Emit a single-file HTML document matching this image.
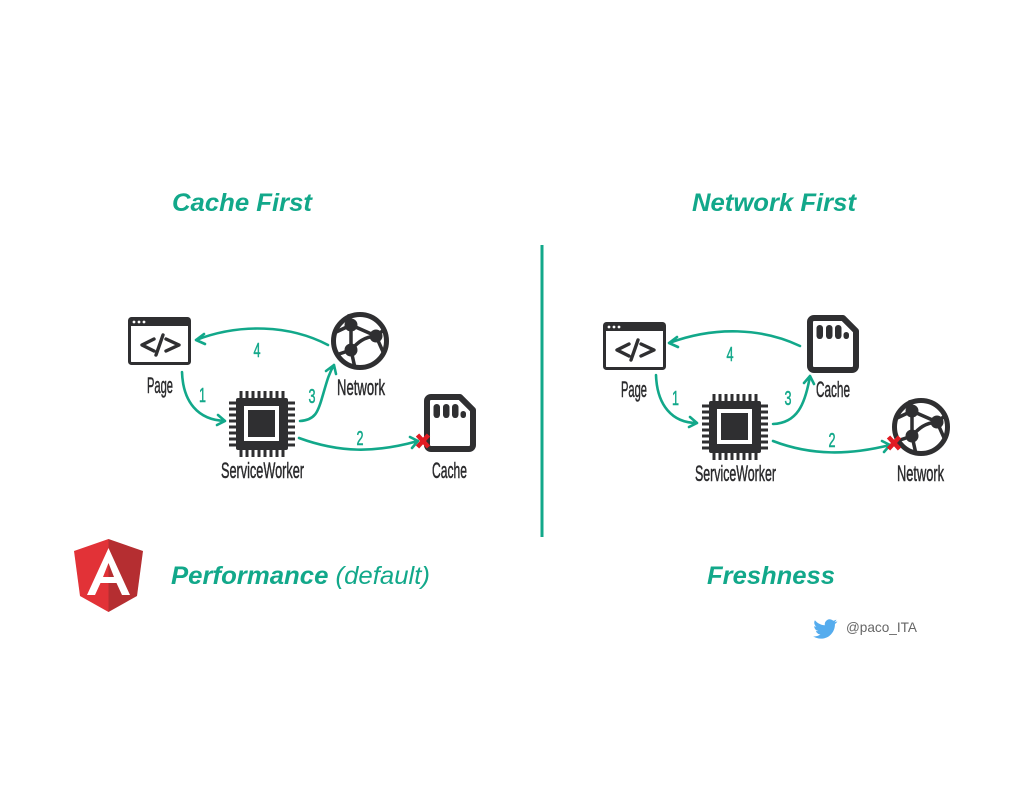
<!DOCTYPE html>
<html><head><meta charset="utf-8"><title>Angular service worker strategies</title>
<style>html,body{margin:0;padding:0;background:#fff}svg{display:block;filter:blur(.3px)}
.t{font:italic bold 25px "Liberation Sans",sans-serif;fill:#12a88a}
.l{font:22px "Liberation Sans",sans-serif;fill:#2b2b2d;stroke:#2b2b2d;stroke-width:.5}
.n{font:20px "Liberation Sans",sans-serif;fill:#12a88a;stroke:#12a88a;stroke-width:.5}
.a{fill:none;stroke:#12a88a;stroke-width:2.600;stroke-linecap:round;stroke-linejoin:round}
</style></head><body>
<svg width="1024" height="791" viewBox="0 0 1024 791" xmlns="http://www.w3.org/2000/svg">
<defs>
<g id="page">
<rect x="1.500" y="1.500" width="60" height="45" rx="2" fill="#fff" stroke="#2f2f31" stroke-width="3"/>
<rect x="1" y="1" width="61" height="8" fill="#2f2f31"/>
<circle cx="6" cy="5" r="1.400" fill="#fff"/><circle cx="11" cy="5" r="1.400" fill="#fff"/><circle cx="16" cy="5" r="1.400" fill="#fff"/>
<path d="M26 22L14 28L26 34M38 22L51 28L38 34M35 18L28 38" fill="none" stroke="#2f2f31" stroke-width="3.400" stroke-linecap="round" stroke-linejoin="round"/>
</g>
<g id="chip">
<g stroke="#2f2f31" stroke-width="3">
<path d="M12 0v66M18 0v66M24 0v66M30 0v66M36 0v66M42 0v66M48 0v66M54 0v66"/>
<path d="M0 12h66M0 18h66M0 24h66M0 30h66M0 36h66M0 42h66M0 48h66M0 54h66"/>
</g>
<rect x="7" y="7" width="52" height="52" rx="2" fill="#2f2f31"/>
<rect x="15" y="15" width="35" height="35" fill="#fff"/>
<rect x="19" y="19" width="27" height="27" fill="#2f2f31"/>
</g>
<g id="card">
<path d="M7 3H36L49 16V51a4 4 0 0 1-4 4H7a4 4 0 0 1-4-4V7a4 4 0 0 1 4-4Z" fill="#fff" stroke="#2f2f31" stroke-width="6" stroke-linejoin="round"/>
<rect x="9.500" y="10" width="6.500" height="14" rx="3.200" fill="#2f2f31"/>
<rect x="19" y="10" width="6.500" height="14" rx="3.200" fill="#2f2f31"/>
<rect x="28" y="10" width="6.500" height="14" rx="3.200" fill="#2f2f31"/>
<rect x="36.500" y="17" width="5.500" height="7" rx="2.700" fill="#2f2f31"/>
</g>
<g id="net">
<circle cx="0" cy="0" r="26.500" fill="#fff" stroke="#2f2f31" stroke-width="5"/>
<path d="M-9 -16L-26 -8M-9 -16L-11 -27M-9 -16L-9 9M-9 -16L16 -5M16 -5L25 -12M16 -5L24 13M16 -5C4 -4 -2 1 -9 9M-9 9L-24 14M-9 9L-5 27" fill="none" stroke="#2f2f31" stroke-width="3.500"/>
<circle cx="-9" cy="-16" r="6.500" fill="#2f2f31"/><circle cx="16" cy="-5" r="6.500" fill="#2f2f31"/><circle cx="-9" cy="9" r="6.500" fill="#2f2f31"/>
</g>
<g id="x"><path d="M-5.500 -6L5.500 6M5.500 -6L-5.500 6" stroke="#e01b22" stroke-width="4.500" fill="none"/></g>
</defs>

<text class="t" x="172" y="211" textLength="140" lengthAdjust="spacingAndGlyphs">Cache First</text>
<text class="t" x="692" y="211" textLength="164" lengthAdjust="spacingAndGlyphs">Network First</text>
<text class="t" x="171" y="584" textLength="259" lengthAdjust="spacingAndGlyphs">Performance <tspan font-weight="normal">(default)</tspan></text>
<text class="t" x="707" y="584" textLength="128" lengthAdjust="spacingAndGlyphs">Freshness</text>

<rect x="540.500" y="245" width="3" height="292" fill="#12a88a"/>

<!-- Left -->
<use href="#page" x="128" y="317"/>
<use href="#chip" x="229" y="391"/>
<use href="#net" x="360" y="341"/>
<use href="#card" x="424" y="394"/>
<path class="a" d="M328 345C290 325 240 323 196 340M204 334L196 340L205 344"/>
<path class="a" d="M182 372C183 402 198 420 225 421M218 415L225 421L217 425"/>
<path class="a" d="M300 421C315 420 318 412 322 398C326 385 328 375 334 365M326 371L334 365L336 374"/>
<path class="a" d="M299 438C340 453 375 453 418 441M410 437L418 441L412 448"/>
<use href="#x" x="423" y="441"/>
<text class="l" x="147" y="393" textLength="26" lengthAdjust="spacingAndGlyphs">Page</text>
<text class="l" x="337" y="395" textLength="48" lengthAdjust="spacingAndGlyphs">Network</text>
<text class="l" x="221" y="478" textLength="83" lengthAdjust="spacingAndGlyphs">ServiceWorker</text>
<text class="l" x="432" y="478" textLength="35" lengthAdjust="spacingAndGlyphs">Cache</text>
<text class="n" x="253.500" y="357" textLength="7" lengthAdjust="spacingAndGlyphs">4</text>
<text class="n" x="199" y="402" textLength="7" lengthAdjust="spacingAndGlyphs">1</text>
<text class="n" x="308.500" y="403" textLength="7" lengthAdjust="spacingAndGlyphs">3</text>
<text class="n" x="356.500" y="445" textLength="7" lengthAdjust="spacingAndGlyphs">2</text>

<!-- Right -->
<use href="#page" x="603" y="322"/>
<use href="#chip" x="702" y="394"/>
<use href="#card" x="807" y="315"/>
<use href="#net" x="921" y="427"/>
<path class="a" d="M800 346C762 328 715 326 669 343M677 337L669 343L678 347"/>
<path class="a" d="M656 375C657 405 672 423 697 423M690 417L697 423L689 427"/>
<path class="a" d="M773 424C797 423 805 405 810 376M804 383L810 376L814 384"/>
<path class="a" d="M773 441C812 456 850 455 890 445M882 441L890 445L884 452"/>
<use href="#x" x="894" y="443"/>
<text class="l" x="621" y="397" textLength="26" lengthAdjust="spacingAndGlyphs">Page</text>
<text class="l" x="816" y="397" textLength="34" lengthAdjust="spacingAndGlyphs">Cache</text>
<text class="l" x="695" y="481" textLength="81" lengthAdjust="spacingAndGlyphs">ServiceWorker</text>
<text class="l" x="897" y="481" textLength="47" lengthAdjust="spacingAndGlyphs">Network</text>
<text class="n" x="726.500" y="361" textLength="7" lengthAdjust="spacingAndGlyphs">4</text>
<text class="n" x="672" y="405" textLength="7" lengthAdjust="spacingAndGlyphs">1</text>
<text class="n" x="784.500" y="405" textLength="7" lengthAdjust="spacingAndGlyphs">3</text>
<text class="n" x="828.500" y="447" textLength="7" lengthAdjust="spacingAndGlyphs">2</text>

<!-- Angular -->
<path d="M108.500 539L74 551L80 596L108.500 612Z" fill="#e23237"/>
<path d="M108.500 539L143 551L137 596L108.500 612Z" fill="#b52e31"/>
<path d="M108.500 548L87 595H95L100.500 583H116.500L122 595H130ZM108.500 563L103 577H114Z" fill="#fff" fill-rule="evenodd"/>

<!-- Twitter -->
<path d="M837 621.500c-.9.400-1.800.650-2.800.800 1-.600 1.800-1.500 2.150-2.700-.950.550-2 .950-3.100 1.200a4.900 4.900 0 0 0-8.350 4.450c-4-.200-7.600-2.100-10-5.050-1.300 2.250-.650 5.100 1.500 6.550-.800 0-1.550-.250-2.200-.600 0 2.350 1.650 4.350 3.900 4.800-.700.200-1.450.220-2.200.080.600 1.950 2.450 3.350 4.550 3.400-2 1.550-4.550 2.300-7.200 2 2.200 1.400 4.850 2.250 7.600 2.250 9.200 0 14.400-7.750 14.100-14.700 1-.700 1.800-1.550 2.450-2.500Z" fill="#55acee"/>
<text x="846" y="632" font-family="Liberation Sans, sans-serif" font-size="14" fill="#666" textLength="71" lengthAdjust="spacingAndGlyphs">@paco_ITA</text>
</svg>
</body></html>
